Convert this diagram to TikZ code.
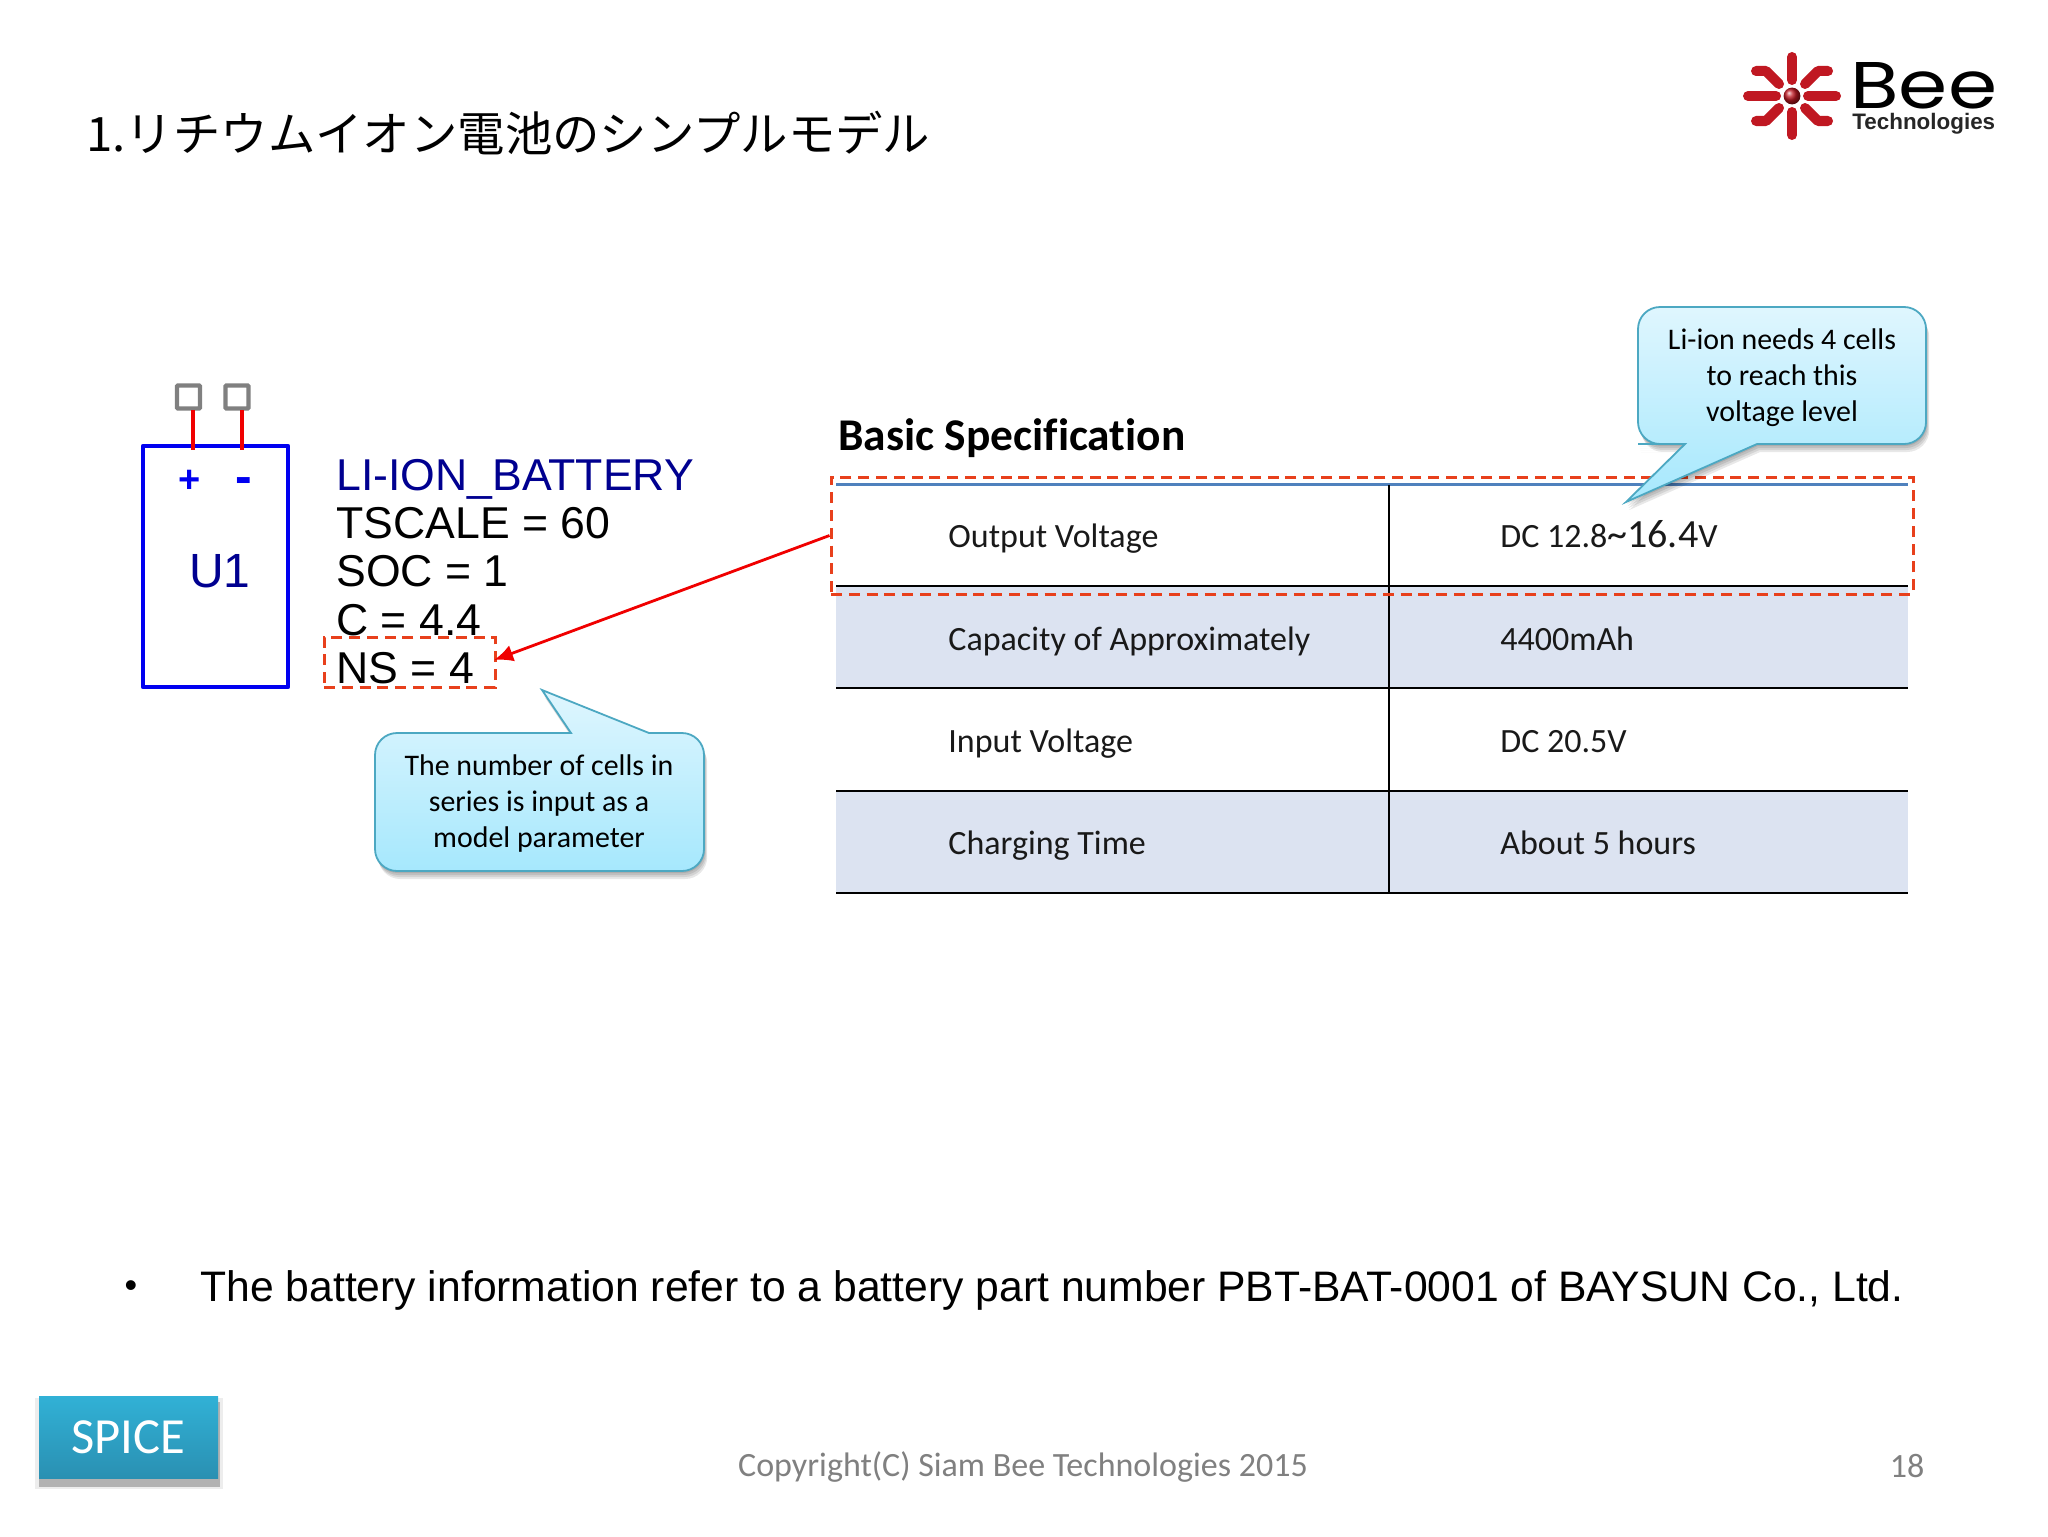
\documentclass[tikz,border=0pt]{standalone}
\usepackage{fontspec}
\usetikzlibrary{arrows.meta}
\setmainfont{Liberation Sans}
\newfontfamily\carl[Ligatures=NoCommon]{Carlito}
\newfontfamily\cjk{Noto Sans CJK JP}
\newfontfamily\popp{Poppins}
\newcommand\fpx[2]{\fontsize{#1}{#2}\selectfont}
\definecolor{bluewire}{HTML}{0000F0}
\definecolor{navytext}{HTML}{000090}
\definecolor{redline}{HTML}{F00000}
\definecolor{dashred}{HTML}{E8401C}
\definecolor{rowblue}{HTML}{DCE3F1}
\definecolor{topblue}{HTML}{4F81BD}
\definecolor{calltop}{HTML}{DFF6FE}
\definecolor{callbot}{HTML}{A6E8FD}
\definecolor{callline}{HTML}{4CA8C2}
\definecolor{logored}{HTML}{C01822}
\definecolor{spicetop}{HTML}{31B1D6}
\definecolor{spicebot}{HTML}{2A90B2}
\tikzset{
  x=0.5pt,y=-0.5pt,
  pinbox/.style={draw=black!50,line width=2.2pt,fill=white,rounded corners=0.5pt,minimum size=11.5pt,inner sep=0pt},
  wire/.style={draw=redline,line width=2.3pt},
  param/.style={anchor=base west,inner sep=0pt,font=\fpx{22.3}{24},text=black},
  dashbox/.style={draw=dashred,line width=1.5pt,dash pattern=on 5.5pt off 3.4pt,inner sep=0pt},
  rowline/.style={draw=black,line width=1.3pt},
  cell/.style={anchor=base west,inner sep=0pt,font=\carl\fpx{17}{18},text=black!90},
  calltext/.style={align=center,inner sep=0pt,font=\carl\fpx{14.95}{18},text=black},
  callshape/.style={top color=calltop,bottom color=callbot,draw=callline,line width=0.9pt},
  callshadow/.style={fill=black,opacity=0.09,draw=none},
  spoke/.style={draw=logored,line width=5pt,line cap=round,line join=round},
}
\def\callA{[rounded corners=11pt] (660,733) -- (704,733) -- (704,871) -- (375,871) -- (375,733) -- (470,733) [sharp corners] -- (571,733) -- (542,690) -- (649,733) -- cycle}
\def\callB{[rounded corners=11pt] (1790,444) -- (1926,444) -- (1926,307) -- (1638,307) -- (1638,444) -- (1660,444) [sharp corners] -- (1685,444) -- (1626,502) -- (1757,444) -- cycle}
\begin{document}
\begin{tikzpicture}
\useasboundingbox (0,0) rectangle (2048,1536);
\fill[white] (0,0) rectangle (2048,1536);

% title
\node[anchor=base west,inner sep=0pt,font=\cjk\fpx{23.7}{24},text=black] (title) at (86,151) {1.リチウムイオン電池のシンプルモデル};

% logo
\draw[spoke] (1808,96) -- (1836,96);
\draw[spoke] (1776,96) -- (1748,96);
\draw[spoke] (1792,80) -- (1792,57);
\draw[spoke] (1792,112) -- (1792,135);
\draw[spoke] (1779,84) -- (1766,71) -- (1756,71);
\draw[spoke] (1805,84) -- (1818,71) -- (1828,71);
\draw[spoke] (1779,108) -- (1766,121) -- (1756,121);
\draw[spoke] (1805,108) -- (1818,121) -- (1828,121);
\shade[ball color=logored] (1792,96) circle (4.2pt);
\node[anchor=base west,inner sep=0pt,font=\popp\fpx{33}{33},text=black] (bee) at (1850,109) {\scalebox{1.2}[1]{Bee}};
\node[anchor=base west,inner sep=0pt,font=\bfseries\fpx{11.2}{12},text=black!85] (tech) at (1852,129.5) {Technologies};

% battery symbol
\draw[draw=bluewire,line width=2.2pt,line join=round] (143,446) rectangle (288,687);
\node[pinbox] (p1) at (188.5,397) {};
\node[pinbox] (p2) at (237,397) {};
\coordinate (w1) at (193,450);
\coordinate (w2) at (242,450);
\draw[wire] (193,410) -- (w1);
\draw[wire] (242,410) -- (w2);
\node[inner sep=0pt,font=\bfseries\fpx{19}{20},text=bluewire] (plus) at (190,481) {+};
\node[inner sep=0pt,font=\bfseries\fpx{25}{20},text=bluewire] (minus) at (244,486) {-};
\node[inner sep=0pt,font=\fpx{24}{24},text=navytext] (u1) at (220,571) {U1};

% parameters
\node[param,text=navytext] (pname) at (336,490) {LI-ION\_BATTERY};
\node[param] (p_t) at (336,538.5) {TSCALE = 60};
\node[param] (p_s) at (336,586.5) {SOC = 1};
\node[param] (p_c) at (336,635) {C = 4.4};
\node[param] (p_n) at (336,683) {NS = 4};
\node[dashbox,minimum width=85.5pt,minimum height=25pt] (nsbox) at (409.5,662) {};

% table
\fill[rowblue] (836,586) rectangle (1908,688);
\fill[rowblue] (836,791) rectangle (1908,893);
\draw[line width=1.3pt,draw=topblue] (836,484.5) -- (1908,484.5);
\draw[rowline] (836,586) -- (1908,586);
\draw[rowline] (836,688) -- (1908,688);
\draw[rowline] (836,791) -- (1908,791);
\draw[rowline] (836,893) -- (1908,893);
\draw[rowline] (1389,484.5) -- (1389,893);
\node[anchor=base west,inner sep=0pt,font=\carl\bfseries\fpx{22.7}{24},text=black] (spec) at (838,450.5) {Basic Specification};
\node[cell] (c11) at (948,547) {Output Voltage};
\node[cell] (c21) at (948,650) {Capacity of Approximately};
\node[cell] (c31) at (948,752) {Input Voltage};
\node[cell] (c41) at (948,854) {Charging Time};
\node[cell] (c12) at (1500,547) {DC 12.8{\fpx{20}{18}\textasciitilde 16.4}V};
\node[cell] (c22) at (1500,650) {4400mAh};
\node[cell] (c32) at (1500,752) {DC 20.5V};
\node[cell] (c42) at (1500,854) {About 5 hours};
\node[dashbox,minimum width=541pt,minimum height=58.5pt] (tbox) at (1372,535.5) {};

% arrow
\draw[draw=redline,line width=1.4pt,-{Latex[length=9.5pt,width=8.5pt]}] (tbox.west) -- ([xshift=-1.2pt,yshift=1pt]nsbox.east);

% callouts
\foreach \o in {2,4,6,8}{
  \fill[callshadow,shift={(\o*0.4,\o)}] \callA;
  \fill[callshadow,shift={(\o*0.4,\o)}] \callB;
}
\path[callshape] \callA;
\path[callshape] \callB;
\node[calltext] (ta) at (539,804) {The number of cells in\\series is input as a\\model parameter};
\node[calltext] (tb) at (1782,378) {Li-ion needs 4 cells\\to reach this\\voltage level};

% bullet
\node[inner sep=0pt,font=\fpx{18}{18},text=black] (bul) at (131,1289) {•};
\node[anchor=base west,inner sep=0pt,font=\fpx{21.33}{22},text=black] (info) at (200,1301) {The battery information refer to a battery part number PBT-BAT-0001 of BAYSUN Co., Ltd.};

% footer
\fill[black!7] (35,1398) rectangle (223,1489);
\fill[black!30] (39,1402) rectangle (220,1487);
\node[top color=spicetop,bottom color=spicebot,minimum width=89.5pt,minimum height=41pt,inner sep=0pt,text=white,font=\carl\fpx{25.3}{26}] (spice) at (128.5,1437) {\raisebox{-1pt}{SPICE}};
\node[inner sep=0pt,font=\carl\fpx{17}{18},text=black!50] (copy) at (1023,1467) {Copyright(C) Siam Bee Technologies 2015};
\node[inner sep=0pt,font=\carl\fpx{17}{18},text=black!50] (pg) at (1907,1466) {18};
\end{tikzpicture}
\end{document}
